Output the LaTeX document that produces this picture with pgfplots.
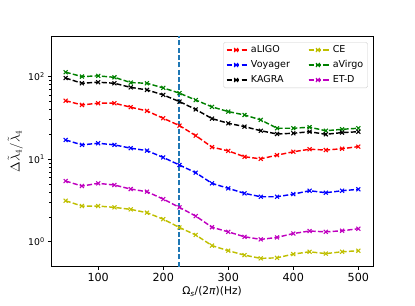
\documentclass[border=0pt]{standalone}
\usepackage{fontspec}
\setmainfont{DejaVu Sans}
\usepackage{pgfplots}
\pgfplotsset{compat=1.18}
\definecolor{mplyellow}{RGB}{191,191,0}
\definecolor{mplgreen}{RGB}{0,128,0}
\definecolor{mplmag}{RGB}{191,0,191}
\definecolor{tabblue}{RGB}{31,119,180}
\pgfplotstableread{
x aLIGO Voyager KAGRA CE aVirgo ETD
50 51 17.1 96 3.14 113 5.44
75 45.4 14.9 83 2.71 100 4.73
100 47.6 15.6 85.5 2.71 102 5.1
125 47.6 14.9 83 2.61 98 4.87
150 42.6 13.6 74 2.47 84.6 4.35
175 38.4 12.7 69 2.25 83 4.04
200 31.3 10.5 60 1.88 73 3.29
225 25.5 8.5 49.8 1.49 63 2.61
250 19.3 6.86 40 1.21 52 2.05
275 14.0 5.1 31 0.90 43 1.50
300 12.6 4.44 27.2 0.78 37.7 1.32
325 10.7 3.86 24.8 0.69 34.3 1.15
350 10.1 3.51 22.1 0.63 29.9 1.07
375 11.2 3.51 20.2 0.64 23.7 1.13
400 12.3 3.78 20.6 0.71 23.7 1.26
425 13.2 4.15 21.5 0.757 24.4 1.35
450 12.9 3.93 20.0 0.72 22.1 1.32
475 13.4 4.15 21.0 0.757 23.0 1.36
500 14.2 4.32 21.5 0.78 23.7 1.44
}\datatable
\pgfplotstableread{
x y
225 0.5
225 310
}\omegaline
\tikzset{
  dline/.style={line width=1.6pt, dash pattern=on 5.7pt off 2.5pt, mark=x, mark size=3.1pt,
    mark options={solid, line width=1.2pt}},
}
\begin{document}
\begin{tikzpicture}
\useasboundingbox (0,0) rectangle (461.1pt,338.9pt);
\begin{axis}[
  at={(56.7pt,42.6pt)}, anchor=south west,
  scale only axis, width=357.7pt, height=256.3pt,
  ymode=log, xmin=27.5, xmax=522.5, ymin=0.5, ymax=310,
  xtick={100,200,300,400,500},
  ytick={1,10,100},
  yticklabels={10\textsuperscript{0},10\textsuperscript{1},10\textsuperscript{2}},
  tick align=outside, tick pos=left,
  /pgf/number format/assume math mode=true,
  xticklabel style={font=\fontsize{12.4}{14}\selectfont},
  yticklabel style={font=\fontsize{10.3}{12}\selectfont},
  major tick length=3.6pt, minor tick length=2.1pt,
  every tick/.style={black, line width=0.8pt},
  axis line style={line width=0.8pt},
  xlabel={Ω\textsubscript{\textit{s}}/(2\textit{π})(Hz)},
  ylabel={$\Delta\tilde{\lambda}_4/\tilde{\lambda}_4$},
  xlabel style={font=\fontsize{11.8}{14}\selectfont, yshift=1pt},
  ylabel style={font=\fontsize{14.5}{16}\selectfont, yshift=-1pt},
  legend columns=2,
  legend cell align=left,
  legend image code/.code={\path (0pt,0pt) -- (24pt,0pt); \draw[mark repeat=2, mark phase=2, #1] plot coordinates {(0pt,0pt) (10.3pt,0pt) (20.6pt,0pt)};},
  legend style={at={(1,1)}, anchor=north east, xshift=-5.6pt, yshift=-6.7pt,
    draw=black!20, rounded corners=2pt, font=\fontsize{10.6}{12}\selectfont,
    inner xsep=3pt, inner ysep=2pt,
    /tikz/every even column/.append style={column sep=18pt},
    row sep=3.2pt},
]
\addplot[tabblue, line width=2.2pt, dash pattern=on 5.7pt off 2.5pt, mark=none, forget plot] table[x=x,y=y]{\omegaline};
\addplot[dline, red] table[x=x,y=aLIGO]{\datatable};
\addlegendentry{aLIGO}
\addplot[dline, mplyellow] table[x=x,y=CE]{\datatable};
\addlegendentry{CE}
\addplot[dline, blue] table[x=x,y=Voyager]{\datatable};
\addlegendentry{Voyager}
\addplot[dline, mplgreen] table[x=x,y=aVirgo]{\datatable};
\addlegendentry{aVirgo}
\addplot[dline, black] table[x=x,y=KAGRA]{\datatable};
\addlegendentry{KAGRA}
\addplot[dline, mplmag] table[x=x,y=ETD]{\datatable};
\addlegendentry{ET-D}
\end{axis}
\end{tikzpicture}
\end{document}
